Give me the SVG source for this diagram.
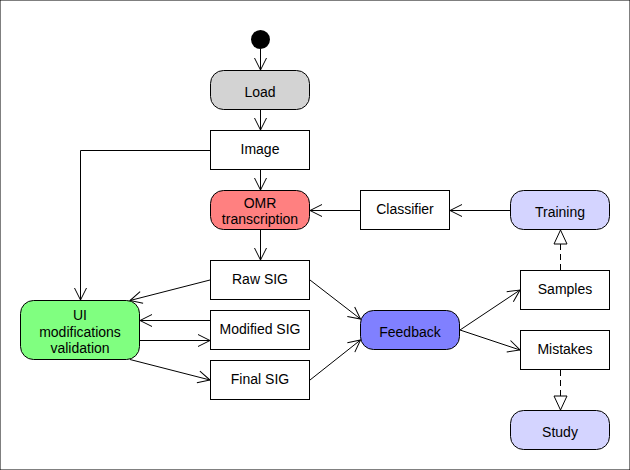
<svg xmlns="http://www.w3.org/2000/svg" width="630" height="470" viewBox="0 0 630 470">
<defs>
<marker id="open" markerWidth="14" markerHeight="14" viewBox="0 0 14 14" refX="13" refY="7" orient="auto" markerUnits="userSpaceOnUse">
<path d="M1,1 L13,7 L1,13" fill="none" stroke="#000" stroke-width="1"/>
</marker>
<marker id="tri" markerWidth="16" markerHeight="16" viewBox="0 0 16 16" refX="15" refY="8" orient="auto" markerUnits="userSpaceOnUse">
<path d="M1,1.5 L15,8 L1,14.5 Z" fill="#fff" stroke="#000" stroke-width="1"/>
</marker>
</defs>
<style>
rect{stroke:#000;stroke-width:1}
.box{fill:#fff}
text{font-family:"Liberation Sans",Arial,sans-serif;font-size:14px;fill:#000;text-anchor:middle}
.c line,.c polyline{stroke:#000;stroke-width:1;fill:none;marker-end:url(#open)}
.c .d{stroke-dasharray:6,4;marker-end:url(#tri)}
</style>
<rect width="630" height="470" fill="#fff" stroke="none"/>
<g class="c" id="connectors">
<line x1="260.5" y1="49" x2="260.5" y2="70"/>
<line x1="260.5" y1="110" x2="260.5" y2="130"/>
<line x1="260.5" y1="170" x2="260.5" y2="190"/>
<line x1="260.5" y1="230" x2="260.5" y2="260"/>
<polyline points="210,150.5 80.5,150.5 80.5,300"/>
<line x1="210" y1="280" x2="130" y2="300.5"/>
<line x1="210" y1="320.5" x2="140" y2="320.5"/>
<line x1="140" y1="340.5" x2="210" y2="340.5"/>
<line x1="130" y1="359.5" x2="210" y2="380"/>
<line x1="310" y1="280" x2="360.5" y2="319"/>
<line x1="310" y1="380" x2="360.5" y2="340"/>
<line x1="460" y1="330" x2="520" y2="290"/>
<line x1="460" y1="330" x2="520" y2="350"/>
<line x1="510" y1="210.5" x2="450" y2="210.5"/>
<line x1="360" y1="210.5" x2="310" y2="210.5"/>
<line class="d" x1="560.5" y1="270" x2="560.5" y2="230"/>
<line class="d" x1="560.5" y1="370" x2="560.5" y2="410"/>
</g>
<g id="start"><circle cx="260.5" cy="39.5" r="9.5" fill="#000"/></g>
<g id="load"><rect x="210.5" y="70.5" width="99" height="39" rx="13" fill="#d3d3d3"/><text x="260" y="96.5">Load</text></g>
<g id="image"><rect class="box" x="210.5" y="130.5" width="99" height="39"/><text x="260" y="154">Image</text></g>
<g id="omr"><rect x="210.5" y="190.5" width="99" height="39" rx="13" fill="#ff8080"/><text x="260" y="208">OMR</text><text x="260" y="224">transcription</text></g>
<g id="classifier"><rect class="box" x="360.5" y="190.5" width="89" height="39"/><text x="405" y="214">Classifier</text></g>
<g id="training"><rect x="510.5" y="190.5" width="99" height="39" rx="13" fill="#d4d4ff"/><text x="560" y="216.5">Training</text></g>
<g id="rawsig"><rect class="box" x="210.5" y="260.5" width="99" height="39"/><text x="260" y="284">Raw SIG</text></g>
<g id="modsig"><rect class="box" x="210.5" y="310.5" width="99" height="39"/><text x="260" y="334">Modified SIG</text></g>
<g id="finalsig"><rect class="box" x="210.5" y="360.5" width="99" height="39"/><text x="260" y="384">Final SIG</text></g>
<g id="ui"><rect x="20.5" y="300.5" width="119" height="59" rx="13" fill="#80ff80"/><text x="80" y="320">UI</text><text x="80" y="336.5">modifications</text><text x="80" y="353">validation</text></g>
<g id="feedback"><rect x="360.5" y="310.5" width="99" height="39" rx="13" fill="#8080ff"/><text x="410" y="336.5">Feedback</text></g>
<g id="samples"><rect class="box" x="520.5" y="270.5" width="89" height="39"/><text x="565" y="294">Samples</text></g>
<g id="mistakes"><rect class="box" x="520.5" y="330.5" width="89" height="39"/><text x="565" y="354">Mistakes</text></g>
<g id="study"><rect x="510.5" y="410.5" width="99" height="39" rx="13" fill="#d4d4ff"/><text x="560" y="436.5">Study</text></g>
</svg>
